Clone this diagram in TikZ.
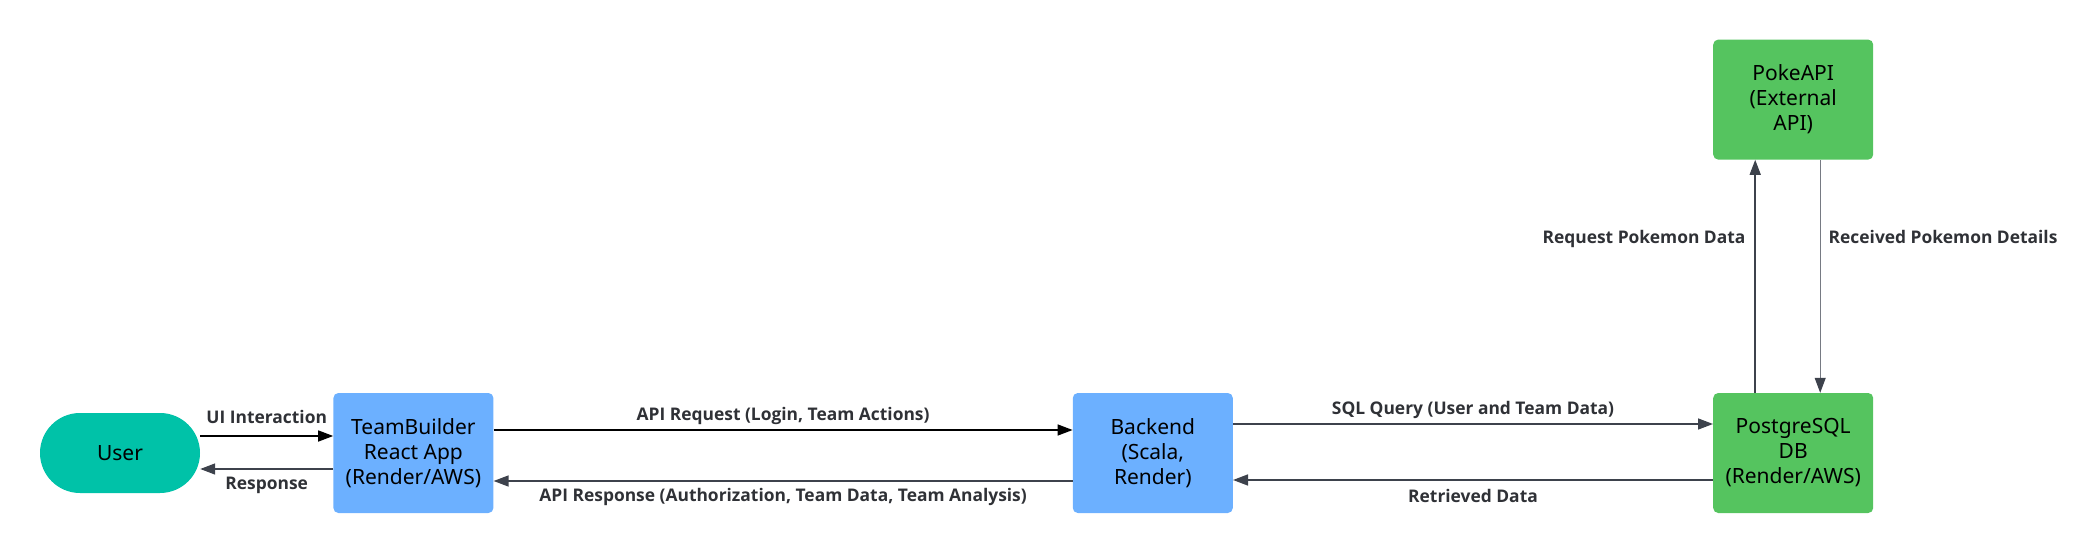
\documentclass[tikz,border=0pt]{standalone}
\usepackage{fontspec}
\setmainfont{Noto Sans}
\newfontfamily\lblfont{Open Sans}
\usetikzlibrary{positioning,arrows.meta}
\definecolor{userteal}{HTML}{00C2A8}
\definecolor{appblue}{HTML}{6CB0FF}
\definecolor{dbgreen}{HTML}{55C45F}
\definecolor{slate}{HTML}{3D424C}
\definecolor{lightslate}{HTML}{767A83}
\definecolor{labelgray}{HTML}{2F3136}

\begin{document}
\begin{tikzpicture}[x=1pt, y=-1pt,
	box/.style = {rounded corners=5pt, minimum width=160pt, minimum height=120pt, inner sep=0pt, align=center, font=\fontsize{21}{25}\selectfont},
	lbl/.style = {font=\lblfont\bfseries\fontsize{17.4}{20}\selectfont, text=labelgray},
	flow/.style = {-{Triangle[length=15pt,width=11pt,color=slate]}, line width=1.5pt, draw=slate}]
	\useasboundingbox (0,0) rectangle (2097,553);
	\node[box, fill=userteal, minimum height=80pt, rounded corners=40pt] (user) at (120,453) {User};
	\node[box, fill=appblue] (app) [right=133pt of user] {TeamBuilder\\React App\\(Render/AWS)};
	\node[box, fill=appblue] (backend) [right=579pt of app] {Backend\\(Scala,\\Render)};
	\node[box, fill=dbgreen] (db) [right=480pt of backend] {PostgreSQL\\DB\\(Render/AWS)};
	\node[box, fill=dbgreen] (poke) [above=233pt of db] {PokeAPI\\(External\\API)};
	% user <-> app
	\draw[flow, draw=black, -{Triangle[length=15pt,width=11pt,color=black]}] ([yshift=17pt]user.east) -- node[lbl, yshift=19pt] {UI Interaction} ([yshift=17pt]app.west);
	\draw[flow] ([yshift=-16pt]app.west) -- node[lbl, yshift=-16pt] {Response} ([yshift=-16pt]user.east);
	% app <-> backend
	\draw[flow, draw=black, -{Triangle[length=15pt,width=11pt,color=black]}] ([yshift=23pt]app.east) -- node[lbl, yshift=14pt] {API Request (Login, Team Actions)} ([yshift=23pt]backend.west);
	\draw[flow] ([yshift=-28pt]backend.west) -- node[lbl, yshift=-16pt] {API Response (Authorization, Team Data, Team Analysis)} ([yshift=-28pt]app.east);
	% backend <-> db
	\draw[flow] ([yshift=29pt]backend.east) -- node[lbl, yshift=14pt] {SQL Query (User and Team Data)} ([yshift=29pt]db.west);
	\draw[flow] ([yshift=-27pt]db.west) -- node[lbl, yshift=-16pt] {Retrieved Data} ([yshift=-27pt]backend.east);
	% db <-> pokeapi
	\draw[flow] ([xshift=-38pt]db.north) -- node[lbl, pos=0.66, left, inner sep=0pt, xshift=-9pt] {Request Pokemon Data} ([xshift=-38pt]poke.south);
	\draw[flow, draw=lightslate, line width=1pt] ([xshift=27pt]poke.south) -- node[lbl, pos=0.33, right, inner sep=0pt, xshift=8pt] {Received Pokemon Details} ([xshift=27pt]db.north);
\end{tikzpicture}
\end{document}
